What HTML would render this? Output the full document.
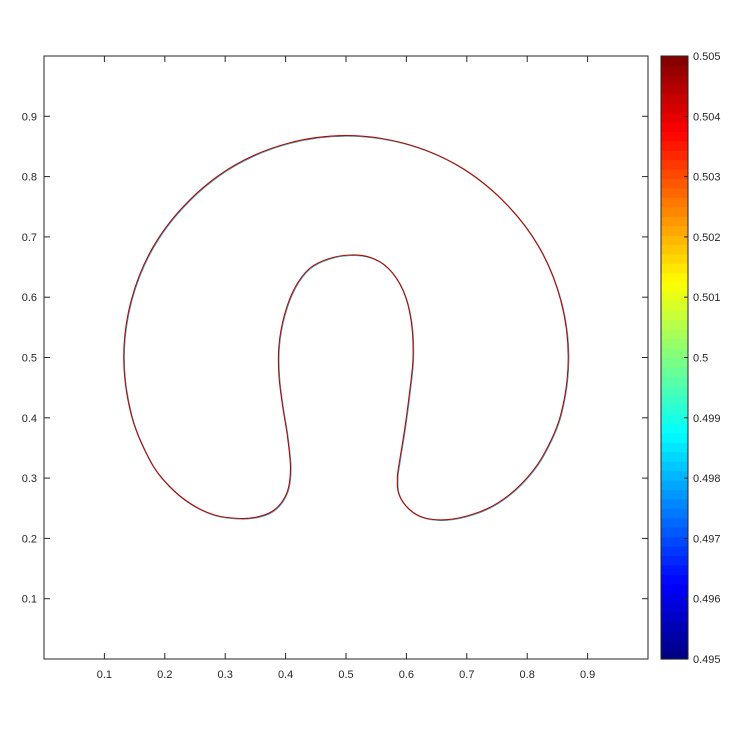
<!DOCTYPE html>
<html><head><meta charset="utf-8"><style>
html,body{margin:0;padding:0;background:#fff;}
svg text{font-family:"Liberation Sans",Arial,sans-serif;font-size:11px;fill:#262626;}
</style></head><body>
<svg id="chart" width="742" height="742" viewBox="0 0 742 742">
<rect x="0" y="0" width="742" height="742" fill="#fff"/>
<g id="cb"></g>
<g id="curves"></g>
<rect x="44" y="56" width="604" height="603" fill="none" stroke="#262626" stroke-width="1"/>
<g id="axes"></g>
</svg>
<script>
const xTicks=[0.1,0.2,0.3,0.4,0.5,0.6,0.7,0.8,0.9];
const yTicks=[0.1,0.2,0.3,0.4,0.5,0.6,0.7,0.8,0.9];
const cbTicks=[0.495,0.496,0.497,0.498,0.499,0.5,0.501,0.502,0.503,0.504,0.505];
const cbTickLabels=["0.495","0.496","0.497","0.498","0.499","0.5","0.501","0.502","0.503","0.504","0.505"];
const contourX=[0.325,0.285,0.245,0.207,0.175,0.1445,0.132,0.1445,0.181,0.240,0.316,0.405,0.500,0.595,0.684,0.760,0.819,0.8555,0.868,0.8555,0.825,0.790,0.750,0.710,0.667,0.630,0.605,0.588,0.585,0.589,0.597,0.605,0.611,0.608,0.595,0.570,0.540,0.507,0.472,0.440,0.415,0.398,0.389,0.389,0.395,0.403,0.408,0.405,0.395,0.378,0.355];
const contourY=[0.233,0.238,0.256,0.287,0.330,0.405,0.500,0.595,0.684,0.760,0.819,0.8555,0.868,0.8555,0.819,0.760,0.684,0.595,0.500,0.405,0.335,0.290,0.258,0.240,0.231,0.234,0.248,0.272,0.300,0.330,0.380,0.440,0.500,0.560,0.610,0.648,0.666,0.670,0.664,0.648,0.615,0.570,0.520,0.470,0.420,0.370,0.320,0.285,0.262,0.245,0.236];
const cmin=0.495,cmax=0.505;
const X0=44,X1=648,Y0=659,Y1=56;
const sx=v=>X0+v*(X1-X0), sy=v=>Y0-v*(Y0-Y1);
const NS='http://www.w3.org/2000/svg';
function mk(t,a,p){const e=document.createElementNS(NS,t);for(const k in a)e.setAttribute(k,a[k]);p.appendChild(e);return e;}
function jet(t){const r=Math.min(Math.max(Math.min(4*t-1.5,-4*t+4.5),0),1),g=Math.min(Math.max(Math.min(4*t-0.5,-4*t+3.5),0),1),b=Math.min(Math.max(Math.min(4*t+0.5,-4*t+2.5),0),1);return `rgb(${Math.round(r*255)},${Math.round(g*255)},${Math.round(b*255)})`;}
const axes=document.getElementById('axes');
xTicks.forEach(v=>{const x=sx(v);
const l=mk('line',{x1:x,y1:Y0,x2:x,y2:Y0-6,stroke:'#262626'},axes);


const l2=mk('line',{x1:x,y1:Y1,x2:x,y2:Y1+6,stroke:'#262626'},axes);


const t=mk('text',{x:x,y:Y0+19,'text-anchor':'middle'},axes);t.textContent=String(v);

});
yTicks.forEach(v=>{const y=sy(v);
const l=mk('line',{x1:X0,y1:y,x2:X0+6,y2:y,stroke:'#262626'},axes);


const l2=mk('line',{x1:X1,y1:y,x2:X1-6,y2:y,stroke:'#262626'},axes);


const t=mk('text',{x:X0-7,y:y+4,'text-anchor':'end'},axes);t.textContent=String(v);

});
const cb=document.getElementById('cb');const CX=661,CW=27,N=64;
for(let i=0;i<N;i++){const y0=Y0-(i+1)*(Y0-Y1)/N;
const r=mk('rect',{x:CX,y:y0,width:CW,height:(Y0-Y1)/N+0.6,fill:jet((i+0.5)/N)},cb);

}
mk('rect',{x:CX,y:Y1,width:CW,height:Y0-Y1,fill:'none',stroke:'#262626'},cb);
const cy=v=>Y0-(v-cmin)/(cmax-cmin)*(Y0-Y1);
cbTicks.forEach((v,i)=>{const y=cy(v);
const l=mk('line',{x1:CX+CW-4,y1:y,x2:CX+CW,y2:y,stroke:'#262626'},cb);


const t=mk('text',{x:CX+CW+5,y:y+4},cb);t.textContent=cbTickLabels[i];

});
function pathFor(dx,dy){const n=contourX.length;const P=contourX.map((x,i)=>[sx(x)+dx,sy(contourY[i])+dy]);
let d=`M${P[0][0]},${P[0][1]}`;
for(let i=0;i<n;i++){const p0=P[(i-1+n)%n],p1=P[i],p2=P[(i+1)%n],p3=P[(i+2)%n];
d+=`C${p1[0]+(p2[0]-p0[0])/6},${p1[1]+(p2[1]-p0[1])/6} ${p2[0]-(p3[0]-p1[0])/6},${p2[1]-(p3[1]-p1[1])/6} ${p2[0]},${p2[1]}`;}
return d+'Z';}
const cg=document.getElementById('curves');
[[0.5,0.5,'#0070ff'],[0.2,0.2,'#40ff80'],[0,0,'#c00000']].forEach(([dx,dy,c])=>{
const p=mk('path',{d:pathFor(dx,dy),fill:'none',stroke:c,'stroke-width':1.1},cg);

});
</script>
</body></html>
